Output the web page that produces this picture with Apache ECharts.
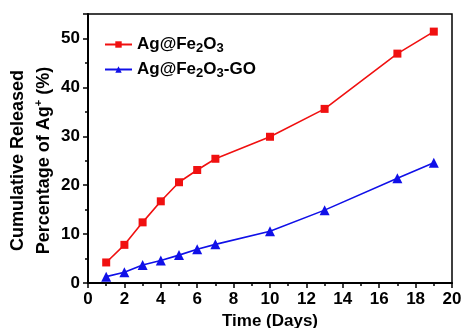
<!DOCTYPE html>
<html><head><meta charset="utf-8">
<script src="https://cdn.jsdelivr.net/npm/echarts@6/dist/echarts.min.js"></script>
<style>html,body{margin:0;padding:0;background:#fff}#c{width:461px;height:328px}</style>
</head><body><div id="c"></div>
<script>
const days = [1, 2, 3, 4, 5, 6, 7, 10, 13, 17, 19];
const agFe2O3 = [4.2, 7.8, 12.4, 16.7, 20.6, 23.1, 25.4, 29.9, 35.6, 46.9, 51.4];
const agFe2O3GO = [1.3, 2.2, 3.7, 4.6, 5.7, 6.9, 7.9, 10.6, 14.9, 21.4, 24.6];
const xTicks = [0, 2, 4, 6, 8, 10, 12, 14, 16, 18, 20];
const yTicks = [0, 10, 20, 30, 40, 50];

const F = 'Liberation Sans, Arial, sans-serif';
const chart = echarts.init(document.getElementById('c'));
const pairs = a => days.map((d, i) => [d, a[i]]);
chart.setOption({
  animation: false,
  grid: { left: 88, right: 9, top: 14, bottom: 45, show: true, borderColor: '#000', borderWidth: 1.5,
    containLabel: false, outerBoundsMode: 'none' },
  legend: {
    orient: 'vertical', left: 99, top: 31, itemWidth: 27, itemHeight: 8, itemGap: 6,
    data: ['Ag@Fe2O3', 'Ag@Fe2O3-GO'],
    formatter: n => n === 'Ag@Fe2O3' ? '{a|Ag@Fe}{s|2}{a|O}{s|3}' : '{a|Ag@Fe}{s|2}{a|O}{s|3}{a|-GO}',
    textStyle: {
      fontFamily: F, color: '#000',
      rich: {
        a: { fontFamily: F, fontSize: 17, fontWeight: 'bold', color: '#000' },
        s: { fontFamily: F, fontSize: 13, fontWeight: 'bold', color: '#000', padding: [8, 0, 0, 0] }
      }
    }
  },
  xAxis: {
    type: 'value', min: 0, max: 20, interval: 2,
    name: 'Time (Days)', nameLocation: 'middle', nameGap: 30, nameMoveOverlap: false,
    nameTextStyle: { fontFamily: F, fontSize: 17, fontWeight: 'bold', color: '#000' },
    axisLine: { onZero: false, lineStyle: { color: '#000', width: 2 } },
    axisTick: { show: true, inside: false, length: 5, lineStyle: { color: '#000', width: 1.5 } },
    minorTick: { show: true, splitNumber: 2, length: 3, lineStyle: { color: '#000', width: 1.5 } },
    splitLine: { show: false },
    axisLabel: { fontFamily: F, fontSize: 17, fontWeight: 'bold', color: '#000', margin: 8,
      formatter: v => xTicks.includes(v) ? String(v) : '' }
  },
  yAxis: {
    type: 'value', min: 0, max: 55, interval: 10,
    name: '{a|Cumulative Released}\n{a|Percentage of Ag}{p|+}{a| (%)}',
    nameLocation: 'middle', nameGap: 31, nameMoveOverlap: false,
    nameTextStyle: { fontFamily: F, color: '#000', padding: [0, 24, 0, 0], lineHeight: 26,
      rich: {
        a: { fontFamily: F, fontSize: 18, fontWeight: 'bold', color: '#000', lineHeight: 26 },
        p: { fontFamily: F, fontSize: 11, fontWeight: 'bold', color: '#000', padding: [0, 0, 11, 0] }
      } },
    axisLine: { show: true, onZero: false, lineStyle: { color: '#000', width: 2 } },
    axisTick: { show: true, inside: false, length: 5, lineStyle: { color: '#000', width: 1.5 } },
    minorTick: { show: true, splitNumber: 2, length: 3, lineStyle: { color: '#000', width: 1.5 } },
    splitLine: { show: false },
    axisLabel: { fontFamily: F, fontSize: 17, fontWeight: 'bold', color: '#000', margin: 8,
      formatter: v => yTicks.includes(v) ? String(v) : '' }
  },
  series: [
    { name: 'Ag@Fe2O3', type: 'line', data: pairs(agFe2O3), symbol: 'rect', symbolSize: 8,
      lineStyle: { color: '#f01010', width: 1.6 }, itemStyle: { color: '#f01010' } },
    { name: 'Ag@Fe2O3-GO', type: 'line', data: pairs(agFe2O3GO), symbol: 'triangle', symbolSize: 10,
      lineStyle: { color: '#1010e8', width: 1.6 }, itemStyle: { color: '#1010e8' } }
  ]
});
</script></body></html>
